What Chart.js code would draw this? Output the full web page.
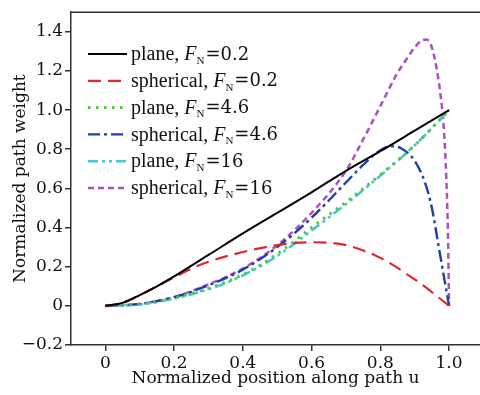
<!DOCTYPE html>
<html>
<head>
<meta charset="utf-8">
<script src="https://cdn.jsdelivr.net/npm/chart.js@4.4.1/dist/chart.umd.min.js"></script>
<style>
html,body{margin:0;padding:0;background:#fff;}
#wrap{width:480px;height:395px;position:relative;}
</style>
</head>
<body>
<div id="wrap"><canvas id="c"></canvas></div>
<script>
// ---- data ----
const xTicks = [0, 0.2, 0.4, 0.6, 0.8, 1.0];
const yTicks = [-0.2, 0, 0.2, 0.4, 0.6, 0.8, 1.0, 1.2, 1.4];

const uPlane02 = [0,0.05,0.1,0.15,0.2,0.3,0.4,0.5,0.6,0.7,0.8,0.9,1.0];
const vPlane02 = [0,0.015,0.055,0.1,0.15,0.26,0.37,0.475,0.58,0.69,0.79,0.895,1.0];

const uSph02 = [0,0.05,0.1,0.15,0.2,0.25,0.3,0.4,0.5,0.6,0.7,0.8,0.9,0.95,1.0];
const vSph02 = [0,0.015,0.055,0.1,0.145,0.19,0.225,0.275,0.31,0.325,0.31,0.245,0.135,0.07,0.0];

const uPlane46 = [0,0.1,0.2,0.3,0.4,0.5,0.6,0.7,0.8,0.9,1.0];
const vPlane46 = [0,0.008,0.04,0.09,0.16,0.265,0.4,0.53,0.67,0.82,1.0];

const uSph46 = [0,0.1,0.2,0.3,0.4,0.5,0.6,0.7,0.75,0.8,0.83,0.86,0.9,0.93,0.95,0.97,0.985,1.0];
const vSph46 = [0,0.01,0.045,0.105,0.185,0.3,0.45,0.63,0.72,0.795,0.815,0.805,0.74,0.63,0.5,0.3,0.15,0.0];

const uPlane16 = [0,0.1,0.2,0.3,0.4,0.5,0.6,0.7,0.8,0.9,1.0];
const vPlane16 = [0,0.007,0.037,0.085,0.155,0.255,0.385,0.52,0.665,0.82,1.0];

const uSph16 = [0,0.1,0.2,0.3,0.4,0.5,0.6,0.7,0.75,0.8,0.85,0.88,0.9,0.92,0.935,0.95,0.965,0.975,0.985,0.992,0.997,1.0];
const vSph16 = [0,0.01,0.045,0.11,0.19,0.31,0.475,0.69,0.85,1.02,1.19,1.27,1.32,1.355,1.36,1.32,1.2,1.08,0.9,0.65,0.35,0.0];

// legend labels: [prefix, italic symbol, subscript, suffix]
const labelParts = [
  ['plane, ', 'F', 'N', '=0.2'],
  ['spherical, ', 'F', 'N', '=0.2'],
  ['plane, ', 'F', 'N', '=4.6'],
  ['spherical, ', 'F', 'N', '=4.6'],
  ['plane, ', 'F', 'N', '=16'],
  ['spherical, ', 'F', 'N', '=16']
];

function pts(us, vs){ return us.map((u,i)=>({x:u, y:vs[i]})); }

const styles = [
  {color:'#000000', dash:[], width:2},
  {color:'#e3262c', dash:[13,7], width:2.2},
  {color:'#52c64a', dash:[2.5,5.5], width:3},
  {color:'#1f3fa8', dash:[12,4,3,4], width:2.4},
  {color:'#48c6d4', dash:[10,4,3,4,3,4], width:2.6},
  {color:'#ae4fbf', dash:[6,4], width:2.5}
];
const series = [
  pts(uPlane02, vPlane02), pts(uSph02, vSph02), pts(uPlane46, vPlane46),
  pts(uSph46, vSph46), pts(uPlane16, vPlane16), pts(uSph16, vSph16)
];

const datasets = series.map((d,i)=>({
  label: labelParts[i].join(''),
  data: d,
  borderColor: styles[i].color,
  backgroundColor: styles[i].color,
  borderDash: styles[i].dash,
  borderWidth: styles[i].width,
  pointRadius: 0,
  fill: false,
  cubicInterpolationMode: 'monotone'
}));

const SERIF = '"Liberation Serif", "Times New Roman", serif';
const WIDE = '"DejaVu Serif", serif';

const framePlugin = {
  id: 'frame',
  afterDraw(chart){
    const ctx = chart.ctx, a = chart.chartArea;
    ctx.save();
    ctx.strokeStyle = '#333';
    ctx.lineWidth = 1.5;
    ctx.beginPath();
    ctx.moveTo(a.left, a.top);
    ctx.lineTo(a.right, a.top);
    ctx.stroke();
    ctx.restore();
  }
};

const legendPlugin = {
  id: 'mathLegend',
  afterDraw(chart){
    const ctx = chart.ctx;
    const x0 = 88, x1 = 127, tx = 131, y0 = 54, dy = 26.8;
    ctx.save();
    chart.data.datasets.forEach((ds, i) => {
      const y = y0 + i*dy;
      ctx.strokeStyle = ds.borderColor;
      ctx.lineWidth = ds.borderWidth;
      ctx.setLineDash(ds.borderDash);
      ctx.beginPath();
      ctx.moveTo(x0, y);
      ctx.lineTo(x1, y);
      ctx.stroke();
      ctx.setLineDash([]);
      const p = labelParts[i];
      ctx.fillStyle = '#111';
      ctx.textBaseline = 'middle';
      ctx.textAlign = 'left';
      let x = tx;
      ctx.font = '20px ' + SERIF;
      ctx.fillText(p[0], x, y + 1); x += ctx.measureText(p[0]).width;
      ctx.font = 'italic 20px ' + SERIF;
      ctx.fillText(p[1], x, y + 1); x += ctx.measureText(p[1]).width;
      ctx.font = '11px ' + SERIF;
      ctx.fillText(p[2], x, y + 7); x += ctx.measureText(p[2]).width + 1;
      ctx.font = '18px ' + WIDE;
      ctx.fillText(p[3], x, y + 1);
    });
    ctx.restore();
  }
};

function fmt(v){
  if (Math.abs(v) < 1e-9) return '0';
  const s = Math.abs(v).toFixed(1);
  return (v < 0 ? '\u2212' : '') + s;
}

new Chart(document.getElementById('c'), {
  type: 'line',
  data: { datasets },
  plugins: [framePlugin, legendPlugin],
  options: {
    responsive: true,
    maintainAspectRatio: false,
    animation: false,
    layout: { padding: { top: 10, right: 0, left: 0, bottom: 0 } },
    plugins: { legend: { display: false }, tooltip: { enabled: false } },
    scales: {
      x: {
        type: 'linear',
        min: -0.1, max: 1.09,
        afterBuildTicks(s){ s.ticks = xTicks.map(v=>({value:v})); },
        afterFit(s){ s.height = 50; },
        grid: { drawOnChartArea: false, drawTicks: true, tickLength: 6, color: '#333', lineWidth: 1.5 },
        border: { display: true, color: '#333', width: 1.5 },
        ticks: { color: '#111', font: { family: WIDE, size: 17 }, padding: 2, maxRotation: 0, callback: v => fmt(v) },
        title: { display: true, text: 'Normalized position along path u', color: '#111', font: { family: WIDE, size: 17 }, padding: { top: 0, bottom: 6 } }
      },
      y: {
        type: 'linear',
        min: -0.2, max: 1.5,
        afterBuildTicks(s){ s.ticks = yTicks.map(v=>({value:v})); },
        afterFit(s){ s.width = 71; },
        grid: { drawOnChartArea: false, drawTicks: true, tickLength: 6, color: '#333', lineWidth: 1.5 },
        border: { display: true, color: '#333', width: 1.5 },
        ticks: { color: '#111', font: { family: WIDE, size: 17 }, padding: 2, callback: v => fmt(v) },
        title: { display: true, text: 'Normalized path weight', color: '#111', font: { family: WIDE, size: 17 }, padding: { top: 10, bottom: 0 } }
      }
    }
  }
});
</script>
</body>
</html>
